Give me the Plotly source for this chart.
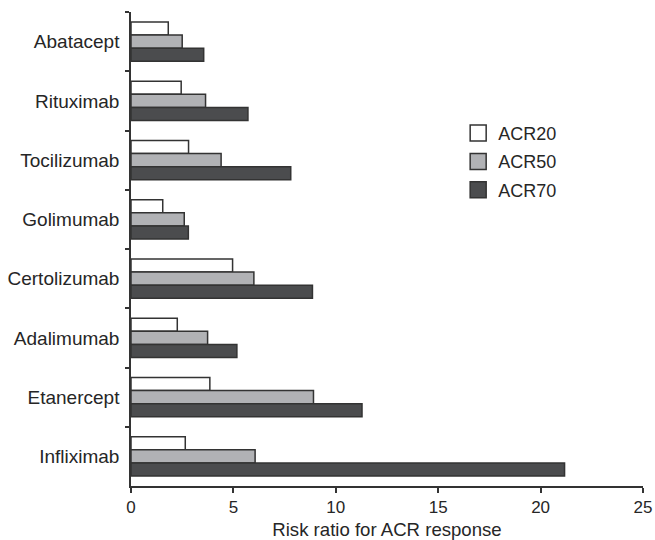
import plotly.graph_objects as go

drugs = ["Abatacept", "Rituximab", "Tocilizumab", "Golimumab",
         "Certolizumab", "Adalimumab", "Etanercept", "Infliximab"]
acr20 = [1.82, 2.45, 2.81, 1.55, 4.96, 2.26, 3.85, 2.65]
acr50 = [2.50, 3.64, 4.40, 2.60, 6.00, 3.74, 8.91, 6.06]
acr70 = [3.55, 5.71, 7.80, 2.80, 8.86, 5.17, 11.28, 21.17]
series_names = ["ACR20", "ACR50", "ACR70"]
fills = ["#ffffff", "#b1b2b5", "#4b4c4e"]
x_ticks = [0, 5, 10, 15, 20, 25]

edge = "#333333"
font = dict(family="Liberation Sans, Arial, sans-serif", size=18, color="#262626")

fig = go.Figure()
for name, vals, col in zip(series_names, [acr20, acr50, acr70], fills):
    fig.add_trace(go.Bar(
        y=drugs, x=vals, orientation="h", name=name,
        marker=dict(color=col, line=dict(color=edge, width=1.5)),
        showlegend=False,
    ))
    # legend proxy (square swatch)
    fig.add_trace(go.Scatter(
        x=[None], y=[None], mode="markers", name=name,
        marker=dict(symbol="square", size=16, color=col,
                    line=dict(color=edge, width=1.5)),
        legendgroup=name, showlegend=True,
    ))

fig.update_layout(
    template="none",
    width=655, height=540,
    margin=dict(l=131, r=12, t=12, b=54, autoexpand=False),
    paper_bgcolor="white", plot_bgcolor="white",
    font=font,
    barmode="group", bargap=0.34, bargroupgap=0,
    showlegend=True,
    legend=dict(x=0.639, y=0.783, xanchor="left", yanchor="top",
                bgcolor="rgba(0,0,0,0)", font=dict(size=18),
                traceorder="grouped", tracegroupgap=2,
                itemsizing="trace"),
    xaxis=dict(range=[0, 25], tickvals=x_ticks, showgrid=False, zeroline=False,
               automargin=False,
               showline=True, linecolor=edge, linewidth=1.5,
               ticks="outside", ticklen=5, tickcolor=edge, tickwidth=1.5,
               tickfont=dict(size=17),
               title=dict(text="Risk ratio for ACR response", font=dict(size=18.6))),
    yaxis=dict(autorange="reversed", type="category", showgrid=False,
               automargin=False,
               showline=True, linecolor=edge, linewidth=1.5,
               ticks="outside", ticklen=4, tickcolor=edge, tickwidth=1.5,
               tickson="boundaries", ticklabelstandoff=6,
               tickfont=dict(size=19)),
)

fig.write_html(
    "out.html",
    config={"displayModeBar": False},
    post_script="document.body.style.margin='0';document.body.style.overflow='hidden';",
)
